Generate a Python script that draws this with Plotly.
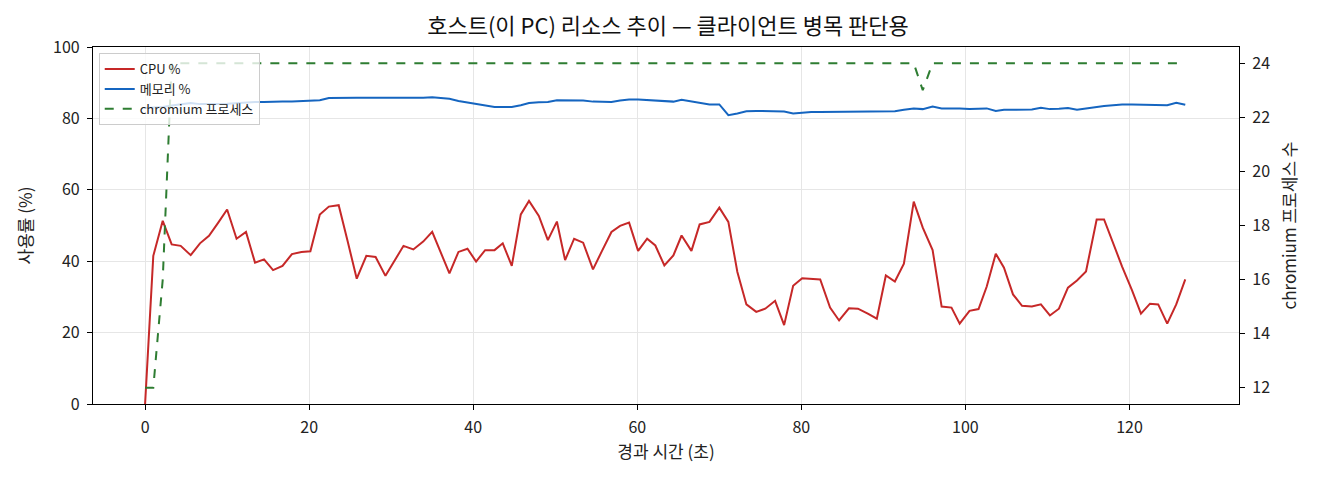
import plotly.graph_objects as go

elapsed_sec = [
    0.0, 1.0, 2.15, 3.24, 4.34, 5.56, 6.69, 7.79, 8.92, 10.0,
    11.15, 12.3, 13.4, 14.5, 15.6, 16.75, 17.9, 19.06, 20.15, 21.3,
    22.4, 23.6, 24.7, 25.8, 26.97, 28.1, 29.3, 30.4, 31.5, 32.7,
    33.9, 35.0, 36.05, 37.1, 38.2, 39.3, 40.35, 41.45, 42.6, 43.6,
    44.7, 45.8, 46.8, 48.0, 49.1, 50.2, 51.2, 52.3, 53.4, 54.6,
    55.7, 56.85, 57.9, 59.0, 60.1, 61.2, 62.2, 63.3, 64.4, 65.4,
    66.6, 67.6, 68.8, 70.0, 71.1, 72.2, 73.3, 74.5, 75.6, 76.8,
    77.9, 79.0, 80.1, 81.2, 82.3, 83.5, 84.6, 85.8, 86.9, 88.1,
    89.2, 90.3, 91.4, 92.5, 93.7, 94.8, 96.0, 97.1, 98.3, 99.3,
    100.5, 101.6, 102.6, 103.7, 104.7, 105.8, 106.9, 108.1, 109.2, 110.3,
    111.4, 112.5, 113.6, 114.7, 116.0, 116.9, 118.0, 119.1, 120.3, 121.4,
    122.5, 123.5, 124.6, 125.7, 126.8,
]

cpu_pct = [
    0.0, 41.5, 51.3, 44.7, 44.3, 41.7, 45.0, 47.1, 50.8, 54.5,
    46.3, 48.2, 39.6, 40.5, 37.5, 38.7, 42.0, 42.6, 42.8, 53.1,
    55.3, 55.7, 45.5, 35.1, 41.5, 41.2, 35.9, 40.0, 44.3, 43.3,
    45.5, 48.2, 42.4, 36.6, 42.6, 43.5, 39.9, 43.1, 43.1, 45.0,
    38.7, 53.1, 56.9, 52.7, 45.9, 51.1, 40.3, 46.3, 45.2, 37.7,
    42.9, 48.2, 49.9, 50.8, 42.9, 46.3, 44.4, 38.8, 41.6, 47.2,
    42.9, 50.3, 51.0, 55.0, 51.0, 37.0, 27.9, 25.8, 26.7, 28.9,
    22.1, 33.1, 35.2, 35.0, 34.9, 27.0, 23.4, 26.8, 26.7, 25.3,
    23.9, 36.0, 34.3, 39.3, 56.7, 49.4, 43.1, 27.3, 27.0, 22.5,
    26.1, 26.6, 32.9, 42.1, 38.2, 30.7, 27.5, 27.3, 27.9, 24.8,
    26.7, 32.6, 34.6, 37.1, 51.7, 51.7, 45.1, 38.5, 31.9, 25.3,
    28.1, 27.9, 22.5, 27.9, 34.9,
]

mem_pct = [
    82.9, 83.0, 83.2, 83.6, 83.9, 84.3, 84.0, 83.9, 84.0, 84.1,
    84.3, 84.6, 84.6, 84.6, 84.7, 84.7, 84.7, 84.8, 84.9, 85.1,
    85.7, 85.8, 85.7, 85.8, 85.8, 85.8, 85.6, 85.7, 85.8, 85.8,
    85.8, 85.9, 85.7, 85.5, 84.9, 84.5, 84.1, 83.6, 83.2, 83.2,
    83.2, 83.7, 84.3, 84.5, 84.6, 85.1, 85.1, 85.1, 85.0, 84.7,
    84.7, 84.6, 85.0, 85.3, 85.3, 85.2, 85.0, 84.8, 84.7, 85.2,
    84.7, 84.3, 83.9, 83.9, 80.9, 81.4, 82.0, 82.1, 82.1, 82.0,
    81.9, 81.4, 81.7, 81.8, 81.8, 81.8, 81.8, 81.8, 81.8, 81.8,
    81.8, 81.8, 82.0, 82.4, 82.8, 82.6, 83.3, 82.8, 82.9, 82.8,
    82.6, 82.7, 82.8, 82.1, 82.4, 82.4, 82.5, 82.5, 83.0, 82.6,
    82.7, 82.9, 82.4, 82.8, 83.3, 83.5, 83.7, 83.9, 83.9, 83.8,
    83.7, 83.7, 83.7, 84.4, 83.8,
]

chromium_count = [
    12, 12, 16, 24, 24, 24, 24, 24, 24, 24,
    24, 24, 24, 24, 24, 24, 24, 24, 24, 24,
    24, 24, 24, 24, 24, 24, 24, 24, 24, 24,
    24, 24, 24, 24, 24, 24, 24, 24, 24, 24,
    24, 24, 24, 24, 24, 24, 24, 24, 24, 24,
    24, 24, 24, 24, 24, 24, 24, 24, 24, 24,
    24, 24, 24, 24, 24, 24, 24, 24, 24, 24,
    24, 24, 24, 24, 24, 24, 24, 24, 24, 24,
    24, 24, 24, 24, 24, 23, 24, 24, 24, 24,
    24, 24, 24, 24, 24, 24, 24, 24, 24, 24,
    24, 24, 24, 24, 24, 24, 24, 24, 24, 24,
    24, 24, 24, 24, 24,
]

x_ticks = [0, 20, 40, 60, 80, 100, 120]
left_ticks = [0, 20, 40, 60, 80, 100]
right_ticks = [12, 14, 16, 18, 20, 22, 24]

FONT = "Noto Sans CJK KR, Noto Sans, DejaVu Sans, sans-serif"

fig = go.Figure()
fig.add_trace(go.Scatter(x=elapsed_sec, y=cpu_pct, mode="lines", name="CPU %",
                         line=dict(color="#c62828", width=2)))
fig.add_trace(go.Scatter(x=elapsed_sec, y=mem_pct, mode="lines", name="메모리 %",
                         line=dict(color="#1565c0", width=2)))
fig.add_trace(go.Scatter(x=elapsed_sec, y=chromium_count, mode="lines", name="chromium 프로세스",
                         line=dict(color="#2e7d32", width=2, dash="dash"), yaxis="y2"))

axis_common = dict(showline=True, linecolor="#000", linewidth=1.2, ticks="outside",
                   ticklen=5, tickcolor="#000", tickfont=dict(size=16, color="#222"),
                   ticklabelstandoff=4, zeroline=False)

fig.update_layout(
    width=1320, height=480,
    paper_bgcolor="white", plot_bgcolor="white",
    margin=dict(l=85, r=89, t=39, b=84),
    font=dict(family=FONT, color="#222"),
    title=dict(text="호스트(이 PC) 리소스 추이 — 클라이언트 병목 판단용", x=0.5, xanchor="center",
               y=0.962, yanchor="middle", font=dict(size=22, color="#111")),
    xaxis=dict(range=[-6.35, 133.35], tickvals=x_ticks, mirror=True,
               showgrid=True, gridcolor="#e6e6e6", gridwidth=1,
               title=dict(text="경과 시간 (초)", font=dict(size=17), standoff=8),
               **axis_common),
    yaxis=dict(range=[0, 100], tickvals=left_ticks, mirror=True,
               showgrid=True, gridcolor="#e6e6e6", gridwidth=1,
               title=dict(text="사용률 (%)", font=dict(size=17), standoff=16),
               **axis_common),
    yaxis2=dict(range=[11.4, 24.6], tickvals=right_ticks, overlaying="y", side="right",
                showgrid=False,
                title=dict(text="chromium 프로세스 수", font=dict(size=17), standoff=14),
                **axis_common),
    legend=dict(x=0.005, y=0.983, xanchor="left", yanchor="top",
                bgcolor="rgba(255,255,255,0.8)", bordercolor="#cccccc", borderwidth=1,
                font=dict(size=13, color="#222"), itemwidth=30, tracegroupgap=2),
    showlegend=True,
)

fig.write_html("out.html")
